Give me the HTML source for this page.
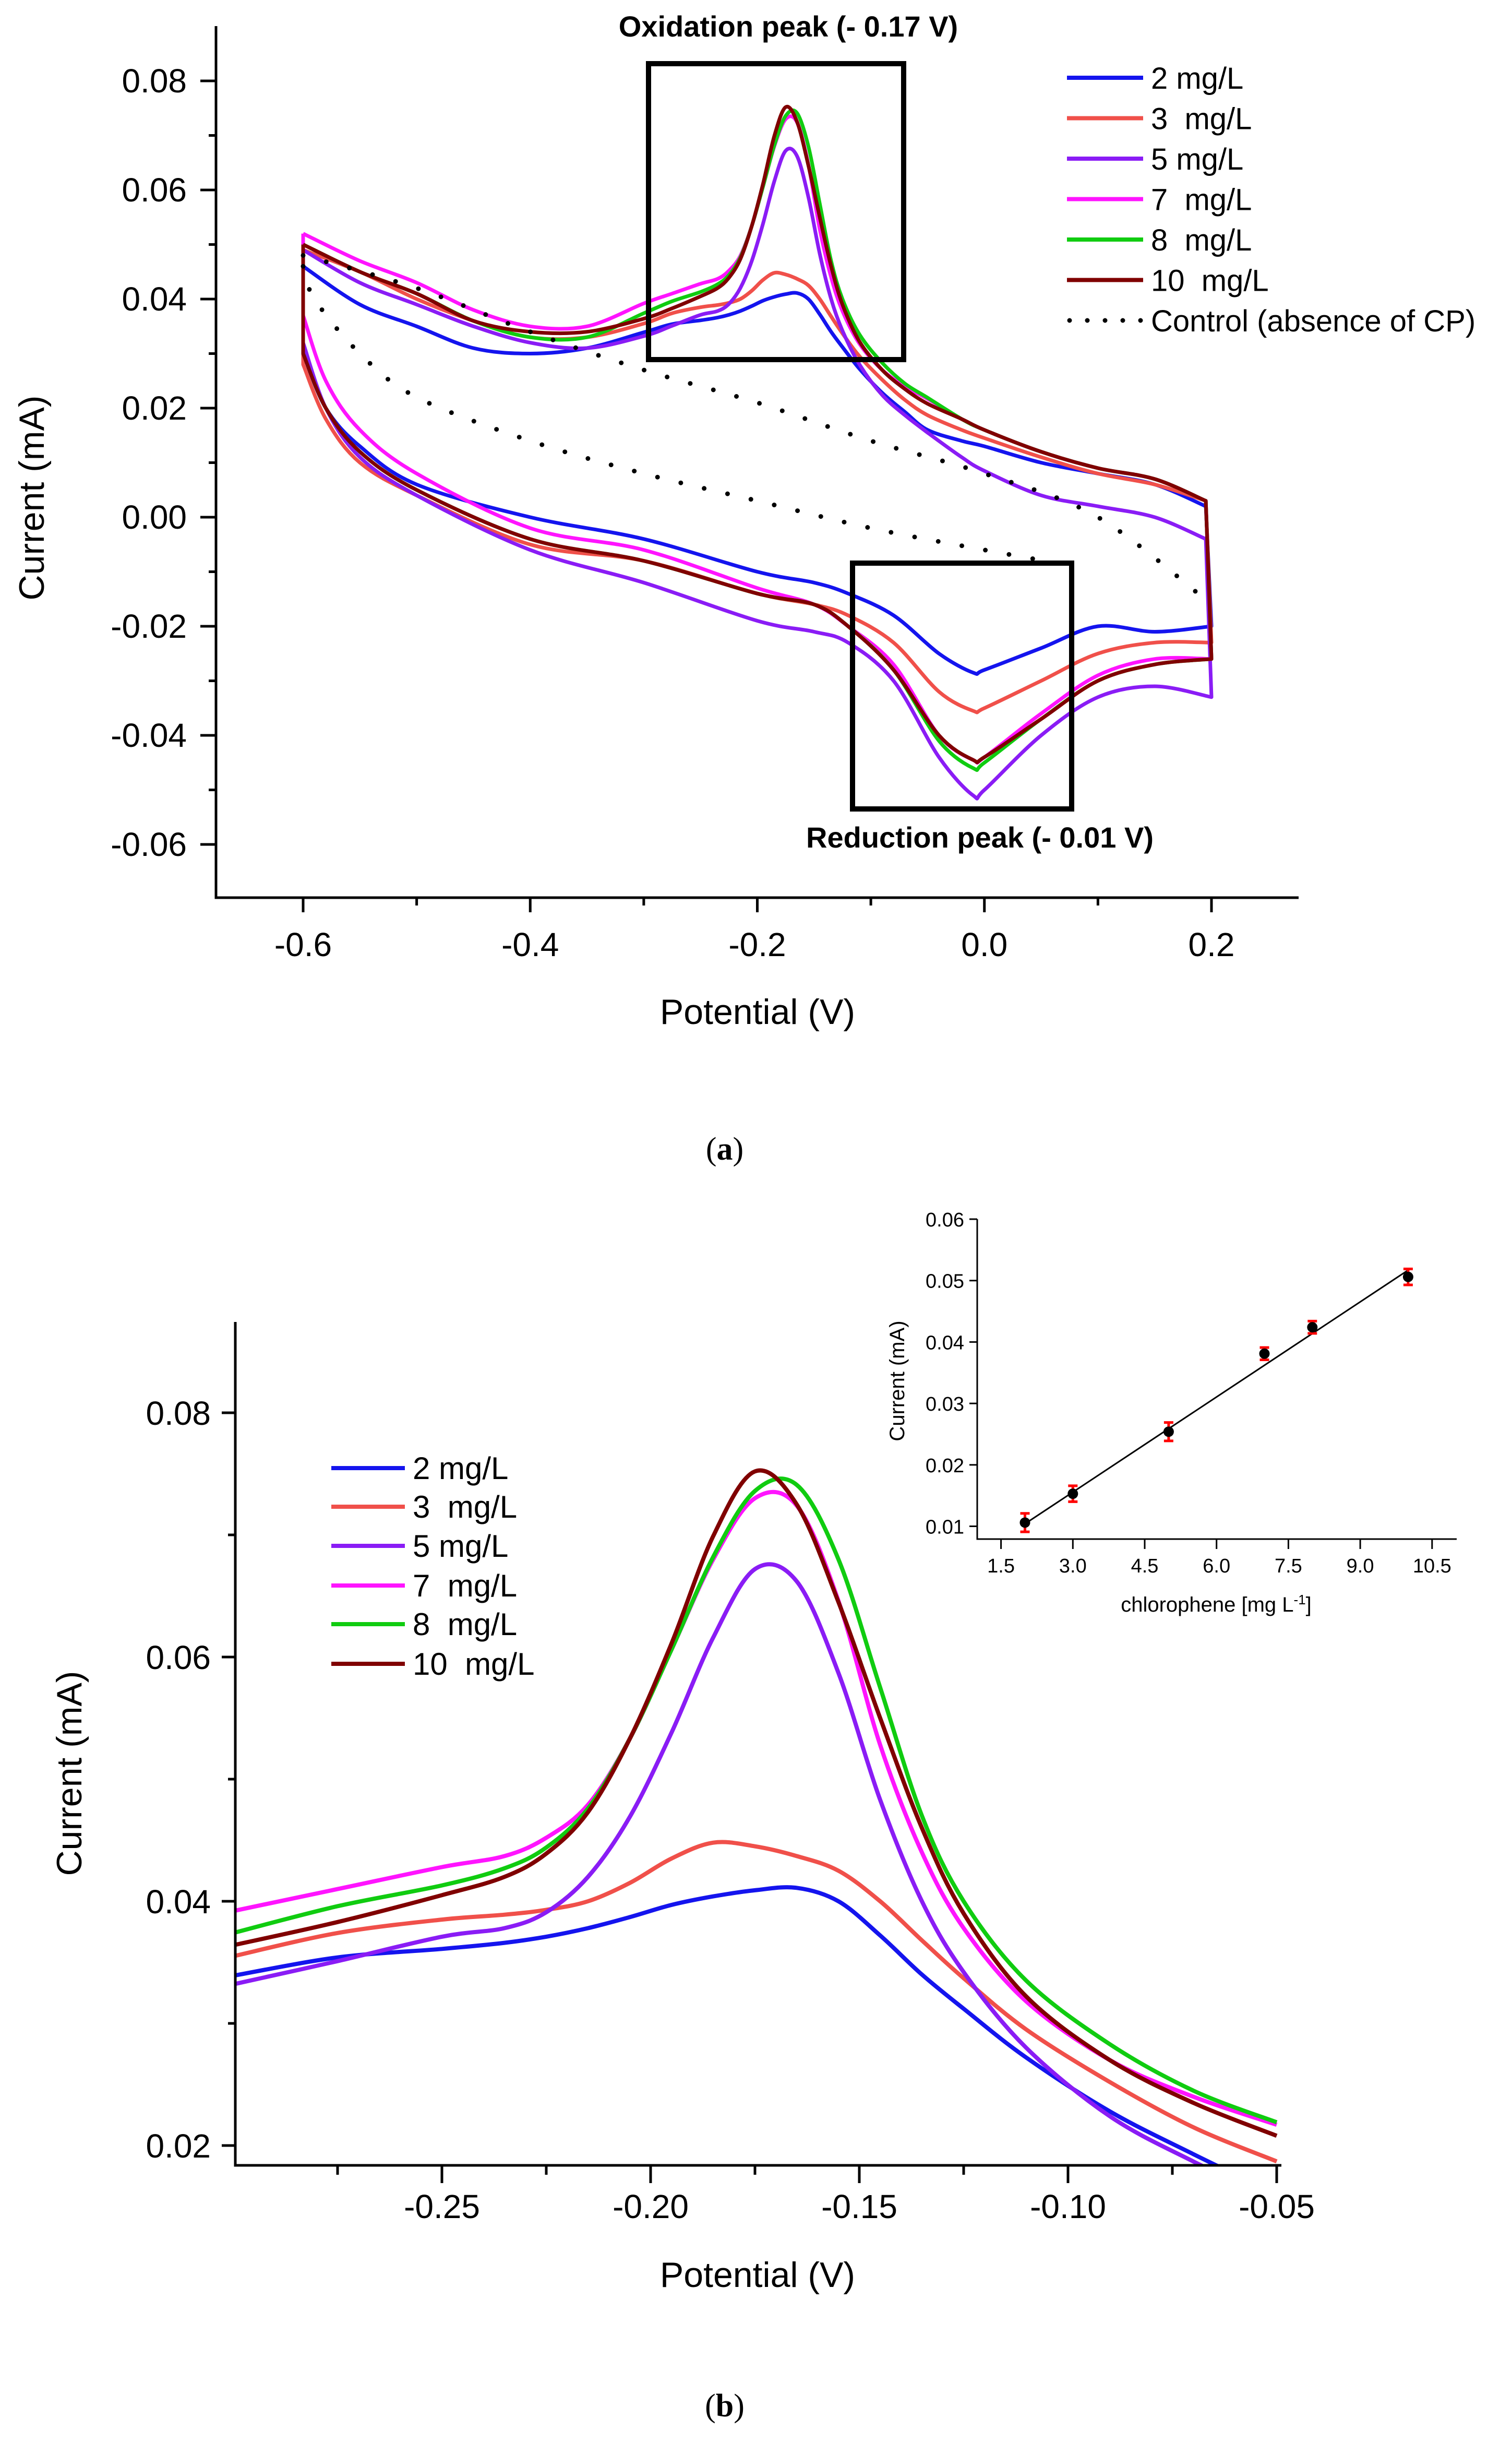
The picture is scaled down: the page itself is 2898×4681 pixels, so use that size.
<!DOCTYPE html>
<html><head><meta charset="utf-8"><style>
html,body{margin:0;padding:0;background:#fff;}
svg{display:block;font-family:"Liberation Sans",Arial,sans-serif;}
.pre{white-space:pre;}
</style></head><body>
<svg id="fig" width="2898" height="4681" viewBox="0 0 2898 4681" xmlns="http://www.w3.org/2000/svg">
<defs>
<clipPath id="clipB"><rect x="451" y="2533" width="2005" height="1616"/></clipPath>
</defs>
<g id="panelA"></g>
<g id="panelB"></g>
<g id="inset"></g>
<text x="1389" y="2222" font-family="Liberation Serif,serif" font-size="62" text-anchor="middle">(<tspan font-weight="bold">a</tspan>)</text>
<text x="1389" y="4630" font-family="Liberation Serif,serif" font-size="62" text-anchor="middle">(<tspan font-weight="bold">b</tspan>)</text>
</svg>
<script>
// ---------- data ----------
const seriesNames = ["2 mg/L","3  mg/L","5 mg/L","7  mg/L","8  mg/L","10  mg/L"];
const seriesColors = ["#1414ee","#f0504a","#8a1cf5","#ff14ff","#10cc10","#800000"];
const peakV = [-0.30,-0.275,-0.25,-0.235,-0.225,-0.215,-0.205,-0.195,-0.185,-0.175,-0.165,-0.155,-0.145,-0.135,-0.125,-0.11,-0.09,-0.07,-0.05];
const peak2  = [.0339,.0354,.0361,.0366,.0371,.0378,.0387,.0397,.0404,.0409,.0411,.0400,.0372,.0340,.0312,.0272,.0228,.0193,.0160];
const peak3  = [.0355,.0374,.0385,.0389,.0393,.0400,.0415,.0435,.0448,.0445,.0437,.0425,.0400,.0368,.0337,.0295,.0252,.0215,.0187];
const peak5  = [.0332,.0351,.0371,.0378,.0391,.0420,.0469,.0538,.0616,.0672,.0662,.0587,.0483,.0400,.0342,.0280,.0224,.0187,.0155];
const peak7  = [.0392,.0410,.0428,.0437,.0452,.0479,.0533,.0606,.0680,.0730,.0724,.0646,.0528,.0440,.0378,.0318,.0270,.0240,.0217];
const peak8  = [.0374,.0396,.0413,.0427,.0444,.0476,.0533,.0606,.0682,.0736,.0741,.0680,.0575,.0470,.0400,.0335,.0283,.0245,.0219];
const peak10 = [.0364,.0383,.0405,.0420,.0439,.0473,.0533,.0611,.0699,.0752,.0725,.0645,.0550,.0460,.0390,.0322,.0270,.0235,.0208];
const leftV = [-0.6,-0.55,-0.5,-0.45,-0.4,-0.35];
const left2  = [.046,.039,.035,.031,.030,.031];
const left3  = [.049,.045,.040,.036,.033,.033];
const left5  = [.049,.043,.039,.035,.032,.031];
const left7  = [.052,.047,.043,.038,.035,.035];
const left8  = [.050,.045,.041,.036,.033,.033];
const left10 = [.050,.045,.041,.036,.034,.034];
const rightV = [-0.02,0.0,0.05,0.1,0.15,0.195];
const right2  = [.0140,.0130,.010,.008,.006,.002];
const right3  = [.0160,.0145,.011,.008,.006,.003];
const right5  = [.0110,.0085,.004,.002,.000,-.004];
const right7  = [.0180,.0160,.012,.009,.007,.003];
const right8  = [.0180,.0160,.012,.009,.007,.003];
const right10 = [.0180,.0160,.012,.009,.007,.003];
const lowV = [0.2,0.15,0.1,0.05,0.0,-0.01,-0.04,-0.08,-0.12,-0.15,-0.2,-0.3,-0.4,-0.5,-0.55,-0.58,-0.6];
const low2  = [-.020,-.021,-.020,-.024,-.028,-.0285,-.025,-.018,-.014,-.012,-.010,-.004,.000,.006,.013,.020,.030];
const low3  = [-.023,-.023,-.025,-.030,-.035,-.0355,-.032,-.023,-.018,-.016,-.014,-.008,-.005,.004,.010,.018,.028];
const low5  = [-.033,-.031,-.033,-.040,-.050,-.051,-.044,-.030,-.023,-.021,-.019,-.012,-.006,.004,.011,.020,.032];
const low7  = [-.026,-.026,-.029,-.036,-.044,-.0445,-.040,-.027,-.020,-.016,-.013,-.006,-.002,.008,.016,.025,.037];
const low8  = [-.026,-.027,-.030,-.037,-.045,-.046,-.041,-.028,-.020,-.016,-.014,-.008,-.004,.005,.012,.020,.030];
const low10 = [-.026,-.027,-.030,-.037,-.044,-.0445,-.040,-.028,-.020,-.016,-.014,-.008,-.004,.005,.012,.020,.030];
const ctrlUpV = [-0.6,-0.5,-0.4,-0.3,-0.2,-0.1,0.0,0.1,0.2];
const ctrlUpI = [.048,.042,.034,.027,.021,.014,.008,.000,-.016];
const ctrlLowV = [-0.6,-0.59,-0.55,-0.5,-0.4,-0.3,-0.2,-0.1,0.0,0.08];
const ctrlLowI = [.046,.040,.030,.022,.014,.008,.003,-.002,-.006,-.009];
const aXTicks = [-0.6,-0.4,-0.2,0.0,0.2];
const aXTickLabels = ["-0.6","-0.4","-0.2","0.0","0.2"];
const aXMinor = [-0.5,-0.3,-0.1,0.1];
const aYTicks = [0.08,0.06,0.04,0.02,0.00,-0.02,-0.04,-0.06];
const aYTickLabels = ["0.08","0.06","0.04","0.02","0.00","-0.02","-0.04","-0.06"];
const aYMinor = [0.07,0.05,0.03,0.01,-0.01,-0.03,-0.05];
const bXTicks = [-0.25,-0.20,-0.15,-0.10,-0.05];
const bXTickLabels = ["-0.25","-0.20","-0.15","-0.10","-0.05"];
const bXMinor = [-0.275,-0.225,-0.175,-0.125,-0.075];
const bYTicks = [0.08,0.06,0.04,0.02];
const bYTickLabels = ["0.08","0.06","0.04","0.02"];
const bYMinor = [0.07,0.05,0.03];
const insetConc = [2,3,5,7,8,10];
const insetCurrent = [0.0106,0.0153,0.0254,0.0381,0.0424,0.0506];
const insetErr = [0.0015,0.0013,0.0015,0.0010,0.0010,0.0013];
const fitX = [2,10];
const fitY = [0.0104,0.0517];
const iXTicks = [1.5,3.0,4.5,6.0,7.5,9.0,10.5];
const iXTickLabels = ["1.5","3.0","4.5","6.0","7.5","9.0","10.5"];
const iYTicks = [0.01,0.02,0.03,0.04,0.05,0.06];
const iYTickLabels = ["0.01","0.02","0.03","0.04","0.05","0.06"];

const xA = v => 581 + (v + 0.6) * 2176.25;
const yA = i => 991 - i * 10450;
const xB = v => 847 + (v + 0.25) * 8000;
const yB = i => 2707 - (i - 0.08) * 23400;
const xI = c => 1918.6 + (c - 1.5) * 91.8;
const yI = i => 2336 + (0.06 - i) * 11770;

const NS = "http://www.w3.org/2000/svg";
function mk(tag, attrs, parent){
  const e = document.createElementNS(NS, tag);
  for (const k in attrs) e.setAttribute(k, attrs[k]);
  parent.appendChild(e); return e;
}
function smooth(pts, start){
  let d = start ? `M${pts[0][0].toFixed(1)},${pts[0][1].toFixed(1)}` : `L${pts[0][0].toFixed(1)},${pts[0][1].toFixed(1)}`;
  for (let k = 0; k < pts.length - 1; k++){
    const p0 = pts[Math.max(0,k-1)], p1 = pts[k], p2 = pts[k+1], p3 = pts[Math.min(pts.length-1,k+2)];
    const t = 6;
    const c1 = [p1[0] + (p2[0]-p0[0])/t, p1[1] + (p2[1]-p0[1])/t];
    const c2 = [p2[0] - (p3[0]-p1[0])/t, p2[1] - (p3[1]-p1[1])/t];
    d += ` C${c1[0].toFixed(1)},${c1[1].toFixed(1)} ${c2[0].toFixed(1)},${c2[1].toFixed(1)} ${p2[0].toFixed(1)},${p2[1].toFixed(1)}`;
  }
  return d;
}
function txt(parent, x, y, s, size, anchor, extra){
  const t = mk("text", Object.assign({x:x, y:y, "font-size":size, "text-anchor":anchor||"middle"}, extra||{}), parent);
  t.textContent = s; return t;
}

const peaks = [peak2,peak3,peak5,peak7,peak8,peak10];
const lefts = [left2,left3,left5,left7,left8,left10];
const rights = [right2,right3,right5,right7,right8,right10];
const lows = [low2,low3,low5,low7,low8,low10];
const seriesKeys = ["2","3","5","7","8","10"];

// ---------- PANEL A ----------
const gA = document.getElementById("panelA");
for (let s = 0; s < 6; s++){
  const up = [];
  leftV.forEach((v,k)=>up.push([xA(v), yA(lefts[s][k])]));
  peakV.forEach((v,k)=>{ if (v > -0.35) up.push([xA(v), yA(peaks[s][k])]); });
  rightV.forEach((v,k)=>up.push([xA(v), yA(rights[s][k])]));
  const lo = lowV.map((v,k)=>[xA(v), yA(lows[s][k])]);
  const d = smooth(up, true) + " " + smooth(lo, false) + ` L${up[0][0].toFixed(1)},${up[0][1].toFixed(1)}`;
  const p = mk("path", {d:d, fill:"none", stroke:seriesColors[s], "stroke-width":7, "stroke-linejoin":"round"}, gA);
  
  
}
{
  const up = ctrlUpV.map((v,k)=>[xA(v), yA(ctrlUpI[k])]);
  const lo = ctrlLowV.map((v,k)=>[xA(v), yA(ctrlLowI[k])]);
  const c1 = mk("path", {d:smooth(up,true), fill:"none", stroke:"#000", "stroke-width":9, "stroke-dasharray":"0 46", "stroke-linecap":"round"}, gA);
  
  
  const c2 = mk("path", {d:smooth(lo,true), fill:"none", stroke:"#000", "stroke-width":9, "stroke-dasharray":"0 46", "stroke-linecap":"round"}, gA);
  
  
}
{
  const ax = mk("path", {d:"M414,50 L414,1720 L2489,1720", fill:"none", stroke:"#000", "stroke-width":5}, gA);
  
  
  aXTicks.forEach((v,k)=>{
    mk("line",{x1:xA(v),x2:xA(v),y1:1720,y2:1748,stroke:"#000","stroke-width":5},gA);
    const t = txt(gA, xA(v), 1832, aXTickLabels[k], 64);
    
    
  });
  aXMinor.forEach(v=>mk("line",{x1:xA(v),x2:xA(v),y1:1720,y2:1735,stroke:"#000","stroke-width":5},gA));
  aYTicks.forEach((v,k)=>{
    mk("line",{x1:384,x2:414,y1:yA(v),y2:yA(v),stroke:"#000","stroke-width":5},gA);
    const t = txt(gA, 358, yA(v)+22, aYTickLabels[k], 64, "end");
    
    
  });
  aYMinor.forEach(v=>mk("line",{x1:400,x2:414,y1:yA(v),y2:yA(v),stroke:"#000","stroke-width":5},gA));
  const xt = txt(gA, 1452, 1962, "Potential (V)", 68);
  
  
  const yt = txt(gA, 0, 0, "Current (mA)", 68, "middle", {transform:"translate(84,954) rotate(-90)"});
  
  
  const b1 = mk("rect",{x:1243,y:122,width:489,height:567,fill:"none",stroke:"#000","stroke-width":10},gA);
  
  
  const b2 = mk("rect",{x:1634,y:1079,width:420,height:471,fill:"none",stroke:"#000","stroke-width":10},gA);
  
  
  const o = txt(gA, 1511, 70, "Oxidation peak (- 0.17 V)", 56, "middle", {"font-weight":"bold"});
  
  
  const r = txt(gA, 1878, 1624, "Reduction peak (- 0.01 V)", 56, "middle", {"font-weight":"bold"});
  
  
  const lg = mk("g",{},gA);
  
  
  for (let s = 0; s < 7; s++){
    const y = 149 + s * 77.5;
    const e = mk("g",{},lg);
    
    
    if (s < 6) mk("line",{x1:2045,x2:2191,y1:y,y2:y,stroke:seriesColors[s],"stroke-width":8},e);
    else mk("line",{x1:2050,x2:2191,y1:y,y2:y,stroke:"#000","stroke-width":9,"stroke-dasharray":"0 34","stroke-linecap":"round"},e);
    txt(e, 2206, y + 21, s < 6 ? seriesNames[s] : "Control (absence of CP)", 58, "start", {"class":"pre"});
  }
}

// ---------- PANEL B ----------
const gB = document.getElementById("panelB");
{
  const gc = mk("g",{"clip-path":"url(#clipB)"},gB);
  for (let s = 0; s < 6; s++){
    const pts = peakV.map((v,k)=>[xB(v), yB(peaks[s][k])]);
    const p = mk("path",{d:smooth(pts,true),fill:"none",stroke:seriesColors[s],"stroke-width":8},gc);
    
    
  }
  const ax = mk("path",{d:"M451,2533 L451,4149 L2456,4149",fill:"none",stroke:"#000","stroke-width":5},gB);
  
  
  bXTicks.forEach((v,k)=>{
    mk("line",{x1:xB(v),x2:xB(v),y1:4149,y2:4183,stroke:"#000","stroke-width":5},gB);
    const t = txt(gB, xB(v), 4250, bXTickLabels[k], 64);
    
    
  });
  bXMinor.forEach(v=>mk("line",{x1:xB(v),x2:xB(v),y1:4149,y2:4167,stroke:"#000","stroke-width":5},gB));
  bYTicks.forEach((v,k)=>{
    mk("line",{x1:425,x2:451,y1:yB(v),y2:yB(v),stroke:"#000","stroke-width":5},gB);
    const t = txt(gB, 404, yB(v)+23, bYTickLabels[k], 64, "end");
    
    
  });
  bYMinor.forEach(v=>mk("line",{x1:437,x2:451,y1:yB(v),y2:yB(v),stroke:"#000","stroke-width":5},gB));
  const xt = txt(gB, 1452, 4382, "Potential (V)", 68);
  
  
  const yt = txt(gB, 0, 0, "Current (mA)", 68, "middle", {transform:"translate(156,3398) rotate(-90)"});
  
  
  const lg = mk("g",{},gB);
  
  
  const ly = [2813,2887,2962,3038,3112,3188];
  for (let s = 0; s < 6; s++){
    const e = mk("g",{},lg);
    
    
    mk("line",{x1:635,x2:776,y1:ly[s],y2:ly[s],stroke:seriesColors[s],"stroke-width":8},e);
    txt(e, 791, ly[s] + 21, seriesNames[s], 60, "start", {"class":"pre"});
  }
}

// ---------- INSET ----------
const gI = document.getElementById("inset");
{
  const ax = mk("path",{d:"M1873,2336 L1873,2949 L2792,2949",fill:"none",stroke:"#000","stroke-width":3},gI);
  
  
  iXTicks.forEach((v,k)=>{
    mk("line",{x1:xI(v),x2:xI(v),y1:2949,y2:2968,stroke:"#000","stroke-width":3},gI);
    const t = txt(gI, xI(v), 3013, iXTickLabels[k], 38);
    
    
  });
  iYTicks.forEach((v,k)=>{
    mk("line",{x1:1858,x2:1873,y1:yI(v),y2:yI(v),stroke:"#000","stroke-width":3},gI);
    const t = txt(gI, 1848, yI(v)+14, iYTickLabels[k], 38, "end");
    
    
  });
  const fit = mk("line",{x1:xI(fitX[0]),y1:yI(fitY[0]),x2:xI(fitX[1]),y2:yI(fitY[1]),stroke:"#000","stroke-width":3},gI);
  
  
  insetConc.forEach((c,k)=>{
    const x = xI(c), y1 = yI(insetCurrent[k]+insetErr[k]), y2 = yI(insetCurrent[k]-insetErr[k]);
    const eb = mk("path",{d:`M${x},${y1} L${x},${y2} M${x-9},${y1} L${x+9},${y1} M${x-9},${y2} L${x+9},${y2}`,stroke:"#ff0000","stroke-width":5,fill:"none"},gI);
    
    
    const pt = mk("circle",{cx:x,cy:yI(insetCurrent[k]),r:10,fill:"#000"},gI);
    
    
  });
  const xt = mk("text",{x:2331,y:3088,"font-size":40,"text-anchor":"middle"},gI);
  xt.innerHTML = 'chlorophene [mg L<tspan dy="-14" font-size="26">-1</tspan><tspan dy="14">]</tspan>';
  
  
  const yt = txt(gI, 0, 0, "Current (mA)", 40, "middle", {transform:"translate(1733,2646) rotate(-90)"});
  
  
}
</script>
</body></html>
